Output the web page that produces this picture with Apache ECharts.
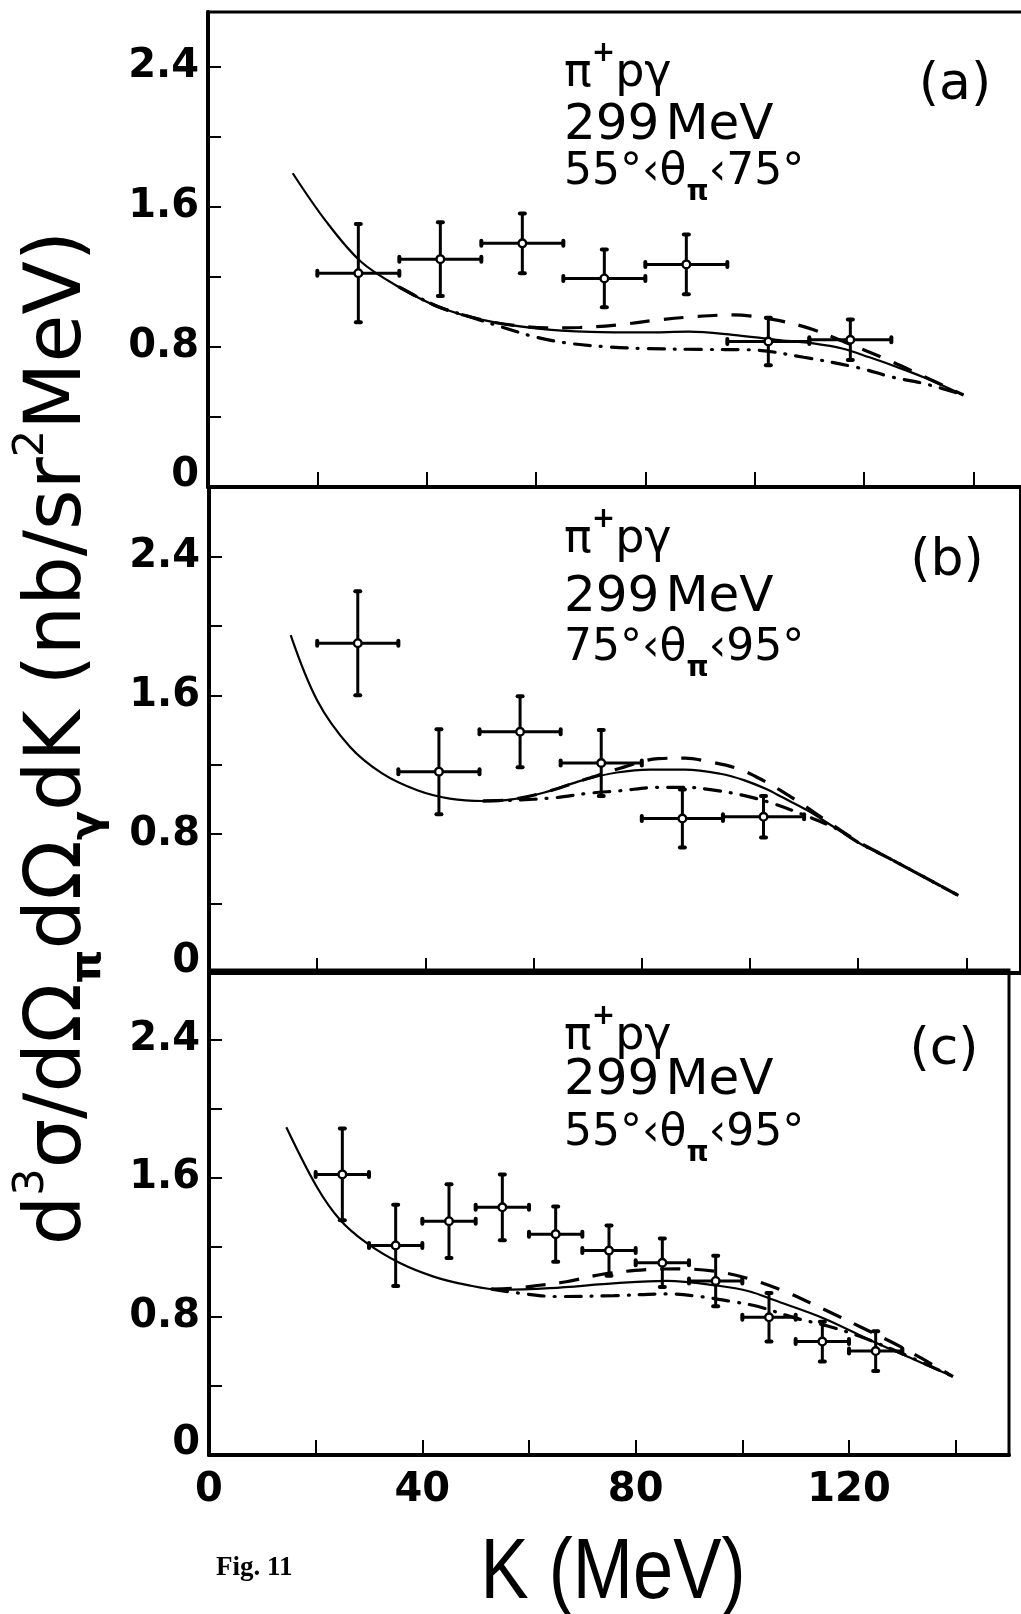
<!DOCTYPE html>
<html>
<head>
<meta charset="utf-8">
<script src="https://cdn.jsdelivr.net/npm/echarts@6/dist/echarts.min.js"></script>
<style>
html,body{margin:0;padding:0;background:#fff;}
#chart{width:1021px;height:1614px;}
</style>
</head>
<body>
<div id="chart"></div>
<script>
// ---------- tick labels ----------
const kTickLabels = ['0', '40', '80', '120'];
const yTickLabels = ['0', '0.8', '1.6', '2.4'];

// ---------- panel texts ----------
const panelTags = ['(a)', '(b)', '(c)'];
const beamEnergy = ['299', 'MeV'];
const angleLow = ['55', '75', '55'];
const angleHigh = ['75', '95', '95'];

// ---------- panel (a): 55° < θπ < 75° ----------
const aK = [27.5, 42.5, 57.5, 72.5, 87.5, 102.5, 117.5];
const aY = [1.22, 1.30, 1.39, 1.19, 1.27, 0.83, 0.84];
const aErr = [0.28, 0.21, 0.17, 0.165, 0.17, 0.135, 0.115];
const aHalfBin = 7.5;
const aSolid = [[15.5,1.79],[21.5,1.52],[28,1.285],[35,1.14],[42,1.03],[50,0.955],[60,0.905],[70,0.885],[80,0.882],[88,0.886],[96,0.868],[104,0.84],[111,0.818],[116,0.79],[121,0.74],[126,0.685],[131,0.625],[138.2,0.525]];
const aDash = [[35,1.14],[42,1.03],[50,0.955],[56,0.922],[62,0.908],[68,0.91],[75,0.925],[82,0.952],[89,0.972],[96,0.982],[103,0.958],[110,0.905],[117,0.82],[124,0.73],[131,0.63],[138.2,0.525]];
const aDashDot = [[35,1.14],[42,1.03],[48,0.97],[54,0.91],[60,0.855],[66,0.82],[73,0.8],[80,0.79],[90,0.785],[99,0.783],[109,0.74],[119,0.68],[125,0.628],[131,0.59],[138.2,0.525]];

// ---------- panel (b): 75° < θπ < 95° ----------
const bK = [27.5, 42.5, 57.5, 72.5, 87.5, 102.5];
const bY = [1.90, 1.16, 1.39, 1.21, 0.89, 0.90];
const bErr = [0.30, 0.245, 0.205, 0.19, 0.167, 0.12];
const bHalfBin = 7.5;
const bSolid = [[15.1,1.946],[20,1.57],[26,1.305],[32,1.15],[38.5,1.053],[44.5,1.005],[50.7,0.991],[56,1.0],[62,1.04],[69,1.11],[75.4,1.155],[81.5,1.172],[88,1.172],[94.5,1.148],[99,1.11],[103,1.06],[106,1.012],[110.6,0.937],[115.5,0.841],[120.4,0.745],[125.3,0.668],[131,0.573],[138.5,0.447]];
const bDash = [[50.7,0.991],[56,1.0],[62,1.04],[70,1.12],[76,1.18],[83,1.235],[88,1.238],[92,1.22],[98,1.175],[103,1.1],[106,1.045],[110,0.965],[114,0.88],[120,0.757],[125.3,0.668],[131,0.573],[138.5,0.447]];
const bDashDot = [[50.7,0.991],[56,0.995],[64,1.01],[70,1.035],[76,1.05],[83,1.07],[88,1.07],[93,1.055],[99,1.022],[104.3,0.976],[110,0.91],[116,0.83],[120.4,0.745],[125.3,0.668],[131,0.573],[138.5,0.447]];

// ---------- panel (c): 55° < θπ < 95° ----------
const cK = [25, 35, 45, 55, 65, 75, 85, 95, 105, 115, 125];
const cY = [1.62, 1.21, 1.35, 1.43, 1.275, 1.18, 1.11, 1.005, 0.795, 0.655, 0.60];
const cErr = [0.265, 0.235, 0.213, 0.19, 0.16, 0.145, 0.14, 0.146, 0.14, 0.115, 0.115];
const cHalfBin = 5;
const cSolid = [[14.5,1.892],[20.2,1.549],[24.6,1.357],[29.6,1.223],[35.8,1.108],[42.1,1.03],[48.3,0.982],[54.6,0.954],[63.9,0.963],[76.4,0.992],[85.8,1.005],[95.5,0.977],[101.4,0.944],[105.8,0.896],[115.2,0.79],[124.5,0.655],[132,0.554],[139.5,0.453]];
const cDash = [[53,0.958],[58,0.965],[62,0.98],[67,1.0],[74,1.045],[82,1.07],[88,1.075],[95,1.06],[101,1.02],[108,0.944],[115,0.845],[122,0.742],[130,0.62],[139.5,0.453]];
const cDashDot = [[53,0.958],[58,0.935],[65,0.915],[76,0.92],[86,0.93],[92,0.915],[98,0.886],[103,0.857],[110,0.79],[116,0.745],[122,0.685],[130,0.585],[139.5,0.453]];

// ---------- helpers ----------
function crossData(K, Y, E, h) {
  return K.map((k, i) => [k, Y[i], k - h, k + h, E[i]]);
}
function renderCross(params, api) {
  const k = api.value(0), y = api.value(1), kl = api.value(2), kh = api.value(3), e = api.value(4);
  const c = api.coord([k, y]);
  const l = api.coord([kl, y]), r = api.coord([kh, y]);
  const t = api.coord([k, y + e]), b = api.coord([k, y - e]);
  const st = {stroke: '#000', lineWidth: 3};
  const capSt = {stroke: '#000', lineWidth: 4, lineCap: 'round'};
  const vcap = p => ({type: 'line', shape: {x1: p[0], y1: p[1] - 2.5, x2: p[0], y2: p[1] + 2.5}, style: capSt});
  const hcap = p => ({type: 'line', shape: {x1: p[0] - 2.5, y1: p[1], x2: p[0] + 2.5, y2: p[1]}, style: capSt});
  return {type: 'group', children: [
    {type: 'line', shape: {x1: l[0], y1: l[1], x2: r[0], y2: r[1]}, style: st},
    {type: 'line', shape: {x1: t[0], y1: t[1], x2: b[0], y2: b[1]}, style: st},
    vcap(l), vcap(r), hcap(t), hcap(b),
    {type: 'circle', shape: {cx: c[0], cy: c[1], r: 3.8}, style: {fill: '#fff', stroke: '#000', lineWidth: 2.4}}
  ]};
}
function kLabel(v) { const s = String(Math.round(v)); return kTickLabels.indexOf(s) >= 0 ? s : ''; }
function yLabel(v) {
  const s = String(Math.round(v * 10) / 10);
  if (yTickLabels.indexOf(s) < 0) return '';
  return s === '0' ? '{z|0}' : s;
}

const grids = [
  {left: 208, top: 12, width: 820, height: 475},
  {left: 209, top: 487, width: 811.5, height: 486},
  {left: 209, top: 970, width: 800, height: 485}
];
const yMaxes = [2.71, 2.8, 2.8];

const xAxes = grids.map((g, i) => ({
  type: 'value', gridIndex: i, min: 0, max: 150, interval: 20,
  axisLine: {show: true, onZero: false, lineStyle: {color: '#000', width: 4}},
  axisTick: {show: true, inside: true, length: 15, lineStyle: {color: '#000', width: 2}},
  axisLabel: {show: i === 2, formatter: kLabel, color: '#000', fontFamily: 'DejaVu Sans', fontWeight: 'bold', fontSize: 40, margin: 16, hideOverlap: false},
  splitLine: {show: false}
}));
const yAxes = grids.map((g, i) => ({
  type: 'value', gridIndex: i, min: 0, max: yMaxes[i], interval: 0.4,
  axisLine: {show: true, lineStyle: {color: '#000', width: 4}},
  axisTick: {show: true, inside: true, length: 13, lineStyle: {color: '#000', width: 2}},
  axisLabel: {show: true, formatter: yLabel, color: '#000', fontFamily: 'DejaVu Sans', fontWeight: 'bold', fontSize: 40, margin: 9, hideOverlap: false,
    rich: {z: {fontFamily: 'DejaVu Sans', fontWeight: 'bold', fontSize: 40, color: '#000', padding: [0, 0, 22, 0]}}},
  splitLine: {show: false}
}));

function lineSeries(data, idx, kind) {
  const ls = {color: '#000'};
  if (kind === 'solid') { ls.width = 2.2; ls.type = 'solid'; }
  else if (kind === 'dash') { ls.width = 3.2; ls.type = [20, 14]; }
  else { ls.width = 3.2; ls.type = [16, 10, 1, 10]; ls.cap = 'round'; }
  return {type: 'line', xAxisIndex: idx, yAxisIndex: idx, data: data, smooth: 0.35, symbol: 'none', lineStyle: ls, z: 3, silent: true};
}
function crossSeries(K, Y, E, h, idx) {
  return {type: 'custom', xAxisIndex: idx, yAxisIndex: idx, data: crossData(K, Y, E, h), renderItem: renderCross, z: 5, silent: true};
}

const series = [
  lineSeries(aSolid, 0, 'solid'), lineSeries(aDash, 0, 'dash'), lineSeries(aDashDot, 0, 'dashdot'),
  crossSeries(aK, aY, aErr, aHalfBin, 0),
  lineSeries(bSolid, 1, 'solid'), lineSeries(bDash, 1, 'dash'), lineSeries(bDashDot, 1, 'dashdot'),
  crossSeries(bK, bY, bErr, bHalfBin, 1),
  lineSeries(cSolid, 2, 'solid'), lineSeries(cDash, 2, 'dash'), lineSeries(cDashDot, 2, 'dashdot'),
  crossSeries(cK, cY, cErr, cHalfBin, 2)
];

// text positions (pixels)
const textLeft = 564;
const reactY = [74, 540, 1037];
const energyY = [126.5, 598, 1081];
const angleY = [172.5, 649, 1134];
const tagPos = [[955, 85], [947, 561], [944, 1050]];

const FF = 'DejaVu Sans';
const graphic = [];
for (let i = 0; i < 3; i++) {
  graphic.push({
    type: 'text', x: textLeft, y: reactY[i], z: 10,
    style: {text: '{m|π}{u|+}{m|pγ}', align: 'left', verticalAlign: 'middle', fill: '#000', fontFamily: FF, fontSize: 46,
      rich: {m: {fontFamily: FF, fontSize: 46, lineHeight: 68, fill: '#000'}, u: {fontFamily: FF, fontSize: 28, fontWeight: 'bold', verticalAlign: 'top', fill: '#000'}}}
  });
  graphic.push({
    type: 'text', x: textLeft, y: energyY[i], z: 10,
    style: {text: '{n|' + beamEnergy[0] + '}{m|' + beamEnergy[1] + '}', align: 'left', verticalAlign: 'middle', fill: '#000', fontFamily: FF, fontSize: 50,
      rich: {n: {fontFamily: FF, fontSize: 50, fill: '#000', padding: [0, 6, 0, 0]}, m: {fontFamily: FF, fontSize: 50, fill: '#000'}}}
  });
  graphic.push({
    type: 'text', x: textLeft, y: angleY[i], z: 10,
    style: {text: '{m|' + angleLow[i] + '°‹θ}{s|π}{m|‹' + angleHigh[i] + '°}', align: 'left', verticalAlign: 'middle', fill: '#000', fontFamily: FF, fontSize: 44,
      rich: {m: {fontFamily: FF, fontSize: 44, lineHeight: 68, fill: '#000'}, s: {fontFamily: FF, fontSize: 28, fontWeight: 'bold', verticalAlign: 'bottom', fill: '#000'}}}
  });
  graphic.push({
    type: 'text', x: tagPos[i][0], y: tagPos[i][1], z: 10,
    style: {text: panelTags[i], align: 'center', verticalAlign: 'middle', fill: '#000', fontFamily: FF, fontSize: 52}
  });
}
// y-axis title
graphic.push({
  type: 'text', x: 60, y: 738, rotation: Math.PI / 2, z: 10,
  style: {
    text: '{m|d}{u|3}{m|σ/dΩ}{b|π}{m|dΩ}{b|γ}{m|dK (nb/sr}{u|2}{m|MeV)}',
    align: 'center', verticalAlign: 'middle', fill: '#000', fontFamily: FF, fontSize: 78,
    rich: {
      m: {fontFamily: FF, fontSize: 78, lineHeight: 100, fill: '#000'},
      u: {fontFamily: FF, fontSize: 43, verticalAlign: 'top', fill: '#000'},
      b: {fontFamily: FF, fontSize: 43, fontWeight: 'bold', verticalAlign: 'bottom', fill: '#000'}
    }
  }
});
// x-axis title
graphic.push({
  type: 'text', x: 613, y: 1574, scaleX: 0.84, z: 10,
  style: {text: 'K (MeV)', align: 'center', verticalAlign: 'middle', fill: '#000', fontFamily: 'Liberation Sans', fontSize: 86}
});
// figure caption
graphic.push({
  type: 'text', x: 216, y: 1568, z: 10,
  style: {text: 'Fig. 11', align: 'left', verticalAlign: 'middle', fill: '#000', fontFamily: 'Liberation Serif', fontWeight: 'bold', fontSize: 27}
});

const chart = echarts.init(document.getElementById('chart'), null, {renderer: 'canvas'});
chart.setOption({
  backgroundColor: '#fff',
  animation: false,
  grid: grids.map(g => Object.assign({show: true, borderColor: '#000', borderWidth: 3, containLabel: false, outerBoundsMode: 'none'}, g)),
  xAxis: xAxes,
  yAxis: yAxes,
  series: series,
  graphic: graphic
});
</script>
</body>
</html>
